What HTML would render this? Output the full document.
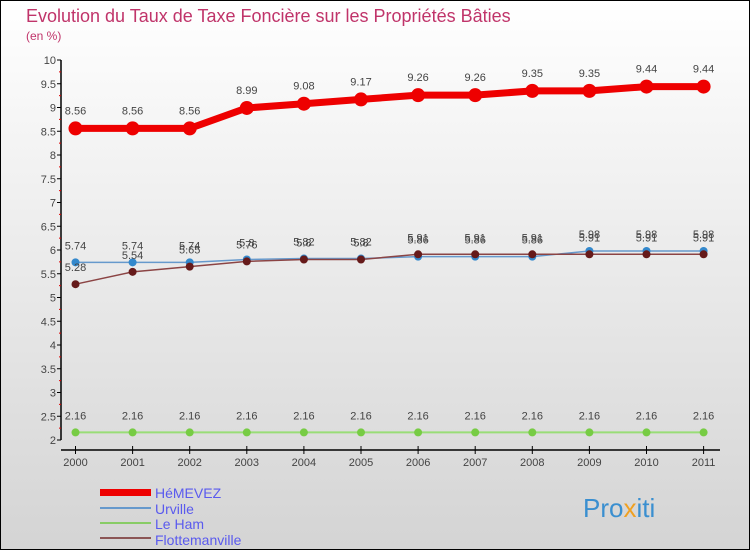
<!DOCTYPE html>
<html><head><meta charset="utf-8"><style>
body{margin:0}
svg{display:block;font-family:"Liberation Sans",sans-serif}
</style></head><body>
<svg id="chart" width="750" height="550" viewBox="0 0 750 550">
<defs><linearGradient id="bg" x1="0" y1="0" x2="0" y2="1"><stop offset="0" stop-color="#ffffff"/><stop offset="1" stop-color="#d4d4d4"/></linearGradient></defs>
<rect x="0.5" y="0.5" width="749" height="549" fill="url(#bg)" stroke="#000"/>
<text x="26" y="22" font-size="18" fill="#c0346a">Evolution du Taux de Taxe Foncière sur les Propriétés Bâties</text>
<text x="26" y="40" font-size="12" fill="#c0346a">(en %)</text>
<g id="axes"></g><g id="series"></g>
<g>
<rect x="100" y="489" width="51" height="7" fill="#e00"/>
<text x="155" y="498" font-size="14" fill="#5a5aee">HéMEVEZ</text>
<rect x="100" y="507" width="51" height="2" fill="#6699cc"/>
<text x="155" y="514" font-size="14" fill="#5a5aee">Urville</text>
<rect x="100" y="522" width="51" height="2" fill="#88cc66"/>
<text x="155" y="529" font-size="14" fill="#5a5aee">Le Ham</text>
<rect x="100" y="537" width="51" height="2" fill="#8b5555"/>
<text x="155" y="545" font-size="14" fill="#5a5aee">Flottemanville</text>
</g>
<text x="583" y="517" font-size="26" fill="#3a8fd0">Pro<tspan fill="#f0a020">x</tspan><tspan fill="#3a8fd0">iti</tspan></text>
</svg>
<script>
const years=[2000,2001,2002,2003,2004,2005,2006,2007,2008,2009,2010,2011];
const hemevez=[8.56,8.56,8.56,8.99,9.08,9.17,9.26,9.26,9.35,9.35,9.44,9.44];
const urville=[5.74,5.74,5.74,5.8,5.82,5.82,5.86,5.86,5.86,5.98,5.98,5.98];
const leham=[2.16,2.16,2.16,2.16,2.16,2.16,2.16,2.16,2.16,2.16,2.16,2.16];
const flotte=[5.28,5.54,5.65,5.76,5.8,5.8,5.91,5.91,5.91,5.91,5.91,5.91];
const yTicks=[2,2.5,3,3.5,4,4.5,5,5.5,6,6.5,7,7.5,8,8.5,9,9.5,10];
const NS="http://www.w3.org/2000/svg";
const xS=i=>75.5+i*57.1, yS=v=>440-(v-2)*47.5;
function mk(p,t,a){const e=document.createElementNS(NS,t);for(const k in a)e.setAttribute(k,a[k]);p.appendChild(e);return e;}
const ax=document.getElementById('axes');
let l=mk(ax,'line',{x1:61,y1:yS(10),x2:61,y2:yS(2),stroke:'#000','stroke-width':1.5});


yTicks.forEach(v=>{
 let t=mk(ax,'line',{x1:57,x2:61,y1:yS(v),y2:yS(v),stroke:'#000'});
 
 
 let m=mk(ax,'line',{x1:59,x2:61,y1:yS(v+0.25),y2:yS(v+0.25),stroke:v<10?'#d00':'none'});
 
 
 let tx=mk(ax,'text',{x:56,y:yS(v)+4,'text-anchor':'end','font-size':11,fill:'#444'});
 tx.textContent=String(v);
 
 
});
l=mk(ax,'line',{x1:61,y1:450,x2:720,y2:450,stroke:'#000','stroke-width':1.5});


years.forEach((y,i)=>{
 let t=mk(ax,'line',{x1:xS(i),x2:xS(i),y1:446,y2:454,stroke:'#000'});
 
 
 let tx=mk(ax,'text',{x:xS(i),y:466,'text-anchor':'middle','font-size':11,fill:'#444'});
 tx.textContent=String(y);
 
 
});
const sg=document.getElementById('series');
function draw(vals,name,col,dot,w,r,dy){
 const g=mk(sg,'g',{});
 
 
 const pl=mk(g,'polyline',{points:vals.map((v,i)=>xS(i)+','+yS(v)).join(' '),fill:'none',stroke:col,'stroke-width':w});
 
 
 vals.forEach((v,i)=>{
  const c=mk(g,'circle',{cx:xS(i),cy:yS(v),r:r,fill:dot});
  
  
  const tx=mk(g,'text',{x:xS(i),y:yS(v)+dy,'text-anchor':'middle','font-size':11,fill:'#444'});
  tx.textContent=String(v);
  
  
 });
}
draw(leham,'le-ham','#99dd77','#77cc44',2,4,-13);
draw(urville,'urville','#6699cc','#3388cc',1.5,4,-13);
draw(flotte,'flottemanville','#8b4444','#661a1a',1.5,4,-13);
draw(hemevez,'hemevez','#ee0000','#ee0000',7,7,-14);
</script>
</body></html>
